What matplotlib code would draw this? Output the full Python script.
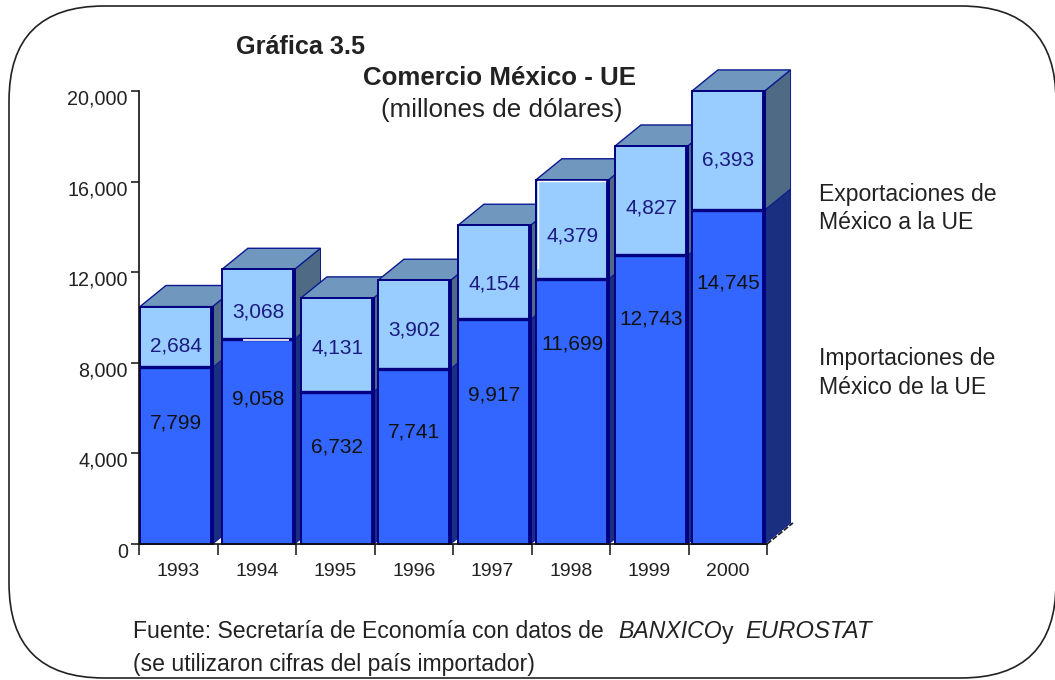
import numpy as np
import matplotlib
matplotlib.use('Agg')
import matplotlib.pyplot as plt
from matplotlib.patches import FancyBboxPatch, Polygon, Rectangle
from matplotlib.transforms import ScaledTranslation

plt.rcParams['font.family'] = ['Liberation Sans', 'DejaVu Sans']

years = ['1993', '1994', '1995', '1996', '1997', '1998', '1999', '2000']
imports = np.array([7799, 9058, 6732, 7741, 9917, 11699, 12743, 14745])
exports = np.array([2684, 3068, 4131, 3902, 4154, 4379, 4827, 6393])
y_ticks = [0, 4000, 8000, 12000, 16000, 20000]
y_max = 20000

W, H = 1055, 680
NAVY = '#000080'
FRONT_IMP = '#3366ff'
FRONT_EXP = '#99ccff'
SIDE_IMP = '#1a2f80'
SIDE_EXP = '#4f6a85'
TOP_EXP = '#7097bd'
TEXT = '#222222'

# bars sit a little unevenly in their slots in the original
bar_left = [0.013, 1.057, 2.064, 3.045, 4.064, 5.057, 6.064, 7.045]
bar_w = 0.925
dx = 0.33
dy = 930
# how far below the top of each segment the value labels sit, in pixels
imp_drop = [56, 60, 55, 63, 76, 65, 64, 73]
exp_drop = [39, 43, 50, 50, 59, 56, 62, 69]

fig = plt.figure(figsize=(W / 100, H / 100), dpi=100)

# background frame, in pixel coordinates
bg = fig.add_axes([0, 0, 1, 1])
bg.set_xlim(0, W)
bg.set_ylim(H, 0)
bg.axis('off')
bg.add_patch(FancyBboxPatch((9, 6), 1047, 672, boxstyle='round,pad=0,rounding_size=95',
                            fc='white', ec='#222222', lw=1.2))

# chart axes: x 139-767 px, y 544-91 px
ax = fig.add_axes([139 / W, 1 - 544 / H, 628 / W, 453 / H])
ax.patch.set_alpha(0)
ax.set_xlim(0, 8)
ax.set_ylim(0, y_max)


def draw_bar(i, y0, y1, front, side):
    x0 = bar_left[i]
    x1 = x0 + bar_w
    ax.add_patch(Polygon([(x1, y0), (x1 + dx, y0 + dy), (x1 + dx, y1 + dy), (x1, y1)],
                         fc=side, ec='#0a1a90', lw=0.7, clip_on=False, zorder=2 + i))
    ax.add_patch(Rectangle((x0, y0), bar_w, y1 - y0, fc=front, ec=NAVY, lw=1.4,
                           clip_on=False, zorder=2.2 + i))
    # heavy edge on the right of the front face
    ax.plot([x1 - 0.01, x1 - 0.01], [y0, y1], color=NAVY, lw=2.8, solid_capstyle='butt',
            zorder=2.3 + i, clip_on=False)


tops = np.minimum(imports + exports, y_max)
for i in range(len(years)):
    draw_bar(i, 0, imports[i], FRONT_IMP, SIDE_IMP)
    draw_bar(i, imports[i], tops[i], FRONT_EXP, SIDE_EXP)
    x0 = bar_left[i]
    x1 = x0 + bar_w
    ax.add_patch(Polygon([(x0, tops[i]), (x0 + dx, tops[i] + dy), (x1 + dx, tops[i] + dy), (x1, tops[i])],
                         fc=TOP_EXP, ec='#0a1a90', lw=1.0, clip_on=False, zorder=2.1 + i))
    # thick line between the two segments
    ax.plot([x0, x1], [imports[i], imports[i]], color=NAVY, lw=2.4, solid_capstyle='butt', zorder=2.4 + i)
    ax.annotate(f'{imports[i]:,}', (x0 + bar_w / 2, imports[i]), xytext=(0, -imp_drop[i] * 0.72),
                textcoords='offset points', ha='center', va='center', fontsize=15,
                color='#111111', zorder=20)
    ax.annotate(f'{exports[i]:,}', (x0 + bar_w / 2, tops[i]), xytext=(0, -exp_drop[i] * 0.72),
                textcoords='offset points', ha='center', va='center', fontsize=15,
                color='#1a1a80', zorder=20)

# small white slips left in the original drawing
ax.plot([bar_left[1] + 0.27, bar_left[1] + 0.85], [imports[1] - 60, imports[1] - 60], color='white',
        lw=1.2, zorder=15, solid_capstyle='butt')
ax.plot([bar_left[5] + 0.02, bar_left[5] + 0.02, bar_left[5] + 0.88],
        [imports[5] + 500, tops[5] - 55, tops[5] - 55], color='white', lw=1.0, zorder=15)

# floor edge on the right
ax.plot([8, 8 + dx], [0, dy], color='#222222', lw=1.3, ls=(0, (3, 1)), clip_on=False, zorder=1)

for s in ['top', 'right']:
    ax.spines[s].set_visible(False)
for s in ['left', 'bottom']:
    ax.spines[s].set_linewidth(1.2)
    ax.spines[s].set_color('#111111')
    ax.spines[s].set_zorder(30)
ax.set_yticks(y_ticks)
ax.set_yticklabels([f'{v:,}' for v in y_ticks], fontsize=14.2, color=TEXT)
ax.tick_params(axis='y', length=6, width=1.1, pad=2, color='#111111')
# the value labels hang a few pixels under their ticks
shift = ScaledTranslation(0, -6 / 100, fig.dpi_scale_trans)
for t in ax.get_yticklabels():
    t.set_transform(t.get_transform() + shift)
ax.set_xticks(np.arange(0, 9))
ax.set_xticklabels([])
ax.set_xticks(np.arange(len(years)) + 0.5, minor=True)
ax.set_xticklabels(years, minor=True, fontsize=14, color=TEXT)
ax.tick_params(axis='x', which='major', length=8, width=1.1, color='#111111')
ax.tick_params(axis='x', which='minor', length=0, pad=14)


def label(x, y, s, **kw):
    fig.text(x / W, 1 - y / H, s, va='center', color=kw.pop('color', TEXT), **kw)


label(236, 47, 'Gráfica 3.5', fontsize=18.2, fontweight='bold')
label(363, 78, 'Comercio México - UE', fontsize=18.6, fontweight='bold')
label(381, 110, '(millones de dólares)', fontsize=18.7)
label(819, 194, 'Exportaciones de', fontsize=16.6)
label(819, 223, 'México a la UE', fontsize=16.6)
label(819, 358, 'Importaciones de', fontsize=16.6)
label(819, 387, 'México de la UE', fontsize=16.6)
label(133, 632, 'Fuente: Secretaría de Economía con datos de', fontsize=16.6)
label(618, 632, 'BANXICO', fontsize=16.6, style='italic')
label(722, 632, 'y', fontsize=16.6)
label(745, 632, 'EUROSTAT', fontsize=17.2, style='italic')
label(133, 664, '(se utilizaron cifras del país importador)', fontsize=16.6)

fig.savefig('out.png', dpi=100)
